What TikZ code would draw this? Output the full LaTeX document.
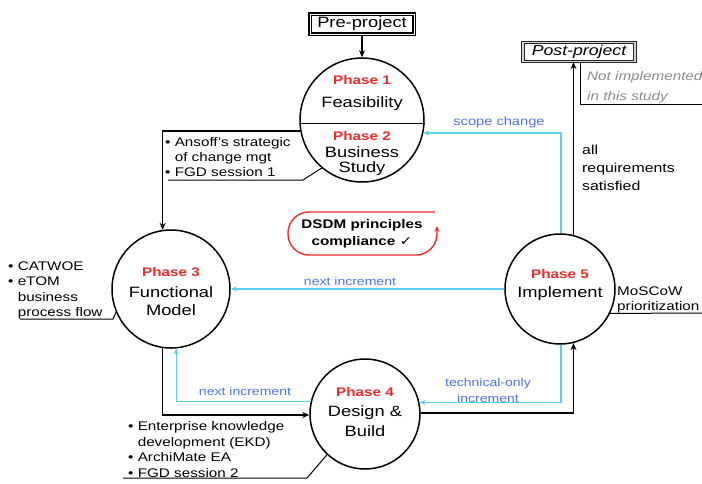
\documentclass[tikz,border=0pt]{standalone}
\usepackage{fontspec}
\setmainfont{Liberation Sans}[FakeStretch=1.22]
\newfontfamily\djv{DejaVu Sans}[FakeStretch=1.22]
\usetikzlibrary{arrows.meta}
\definecolor{cyn}{HTML}{5CCFEF}
\definecolor{blu}{HTML}{4F74E6}
\definecolor{phred}{HTML}{EE2B2B}
\definecolor{gtxt}{HTML}{8C8C8C}
\begin{document}
\begin{tikzpicture}[x=1pt,y=-1pt,
 phase/.style={circle,draw,line width=1.5pt,inner sep=0},
 ptitle/.style={font=\fontsize{12.5}{14}\selectfont\bfseries,text=phred,inner sep=0},
 pname/.style={font=\fontsize{15}{16}\selectfont,inner sep=0},
 blk/.style={draw,line width=1.5pt,-{Stealth[length=7pt,width=6pt]}},
 cy/.style={draw=cyn,line width=1.3pt,-{Stealth[length=6pt,width=5pt]}},
 bl/.style={text=blu,font=\fontsize{11.5}{16}\selectfont,inner sep=0},
 side/.style={font=\fontsize{12.5}{15.2}\selectfont,align=left,inner sep=0,anchor=west},
 uline/.style={draw,line width=1pt},
]
\useasboundingbox (0,0) rectangle (702,483);
\fill[white] (0,0) rectangle (702,483);

% Phase 1/2
\node[phase,minimum size=124pt] (c12) at (362,120) {};
\draw[line width=1.5pt] (c12.183) -- (c12.-3);
\node[ptitle] (p1) at (362,80) {Phase 1};
\node[pname] (n1) at (362,104) {Feasibility};
\node[ptitle] (p2) at (362,136) {Phase 2};
\node[pname] (n2a) at (362,152) {Business};
\node[pname] (n2b) at (362,169) {Study};

% Pre-project
\node[draw,double,line width=1.4pt,double distance=0.7pt,minimum width=104pt,minimum height=20pt,inner sep=0,font=\fontsize{15}{17}\selectfont] (pre) at (362,24) {Pre-project};
\draw[blk] (pre.south) -- (c12.north);

% Post-project
\node[draw=black!85,double=gray!35,line width=1.2pt,double distance=1.2pt,minimum width=112pt,minimum height=19pt,inner sep=0,font=\fontsize{14.5}{16}\selectfont\itshape] (post) at (579,52) {Post-project};
\node[side,text=gtxt,font=\fontsize{12.5}{20}\selectfont\itshape] (note) at (587,87) {Not implemented\\in this study};
\coordinate (ne) at (702,104);
\draw[uline] ([xshift=1pt]post.south) |- (ne);

% Phase 3
\node[phase,minimum size=118pt] (c3) at (171,289) {};
\node[ptitle] (p3) at (171,272) {Phase 3};
\node[pname] (n3a) at (171,292) {Functional};
\node[pname] (n3b) at (171,310) {Model};

% Phase 4
\node[phase,minimum size=110pt] (c4) at (365,414) {};
\node[ptitle] (p4) at (365,392) {Phase 4};
\node[pname] (n4a) at (365,413) {Design \&};
\node[pname] (n4b) at (365,431) {Build};

% Phase 5
\node[phase,minimum size=110pt] (c5) at (560,289) {};
\node[ptitle] (p5) at (560,274) {Phase 5};
\node[pname] (n5) at (560,294) {Implement};

% side labels
\node[side] (ans) at (165,157) {• Ansoff's strategic\\\phantom{• }of change mgt\\• FGD session 1};
\coordinate (a1) at (168,180);
\coordinate (a2) at (303,180);
\draw[uline] (a1) -- (a2) -- (c12.230);

\node[side] (cat) at (8,290.5) {• CATWOE\\• eTOM\\\phantom{• }business\\\phantom{• }process flow};
\coordinate (b1) at (20,319);
\coordinate (b2) at (113,319);
\draw[uline] (b1) -- (b2) -- (c3.203);

\node[side,font=\fontsize{12.5}{15.5}\selectfont] (ekd) at (128,449.5) {• Enterprise knowledge\\\phantom{• }development (EKD)\\• ArchiMate EA\\• FGD session 2};
\coordinate (e1) at (123,478);
\coordinate (e2) at (307,478);
\draw[uline] (e1) -- (e2) -- (c4.227);

\node[side,font=\fontsize{12.5}{15}\selectfont] (mos) at (617,299.5) {MoSCoW\\prioritization};
\coordinate (m1) at (702,313);
\draw[uline] (c5.-26) -- (m1);

% black flow
\draw[blk] (c12.190) -| (c3.98);
\draw[blk] (c3.262) |- (c4.181);
\draw[blk] (c4.1) -| (c5.284);
\draw[blk] (c5.76) -- (c5.76 |- post.south);
\node[side,font=\fontsize{13}{18}\selectfont] (req) at (582,168) {all\\requirements\\satisfied};

% cyan flow
\draw[cy] (c5.89) |- (c12.-12);
\node[bl,font=\fontsize{12}{16}\selectfont] (sc) at (499,122) {scope change};
\draw[cy] (c5.180) -- (c3.0);
\node[bl] (ni1) at (350,281) {next increment};
\draw[cy] (c4.167) -| (c3.275);
\node[bl] (ni2) at (245,391) {next increment};
\draw[cy] (c5.271) |- (c4.12);
\node[bl,align=center] (toi) at (488,390) {technical-only\\increment};

% DSDM
\coordinate (d0) at (435,212);
\coordinate (d1) at (288,212);
\coordinate (d2) at (288,255);
\coordinate (d3) at (437,255);
\coordinate (d4) at (437,226);
\draw[phred,line width=1.4pt,rounded corners=21pt,-{Stealth[length=6pt,width=5pt]}] (d0) -- (d1) -- (d2) -- (d3) -- (d4);
\node[font=\fontsize{12.5}{17}\selectfont\bfseries,align=center,inner sep=0] (dsdm) at (362,234) {DSDM principles\\compliance {\djv ✓}};
\end{tikzpicture}
\end{document}
